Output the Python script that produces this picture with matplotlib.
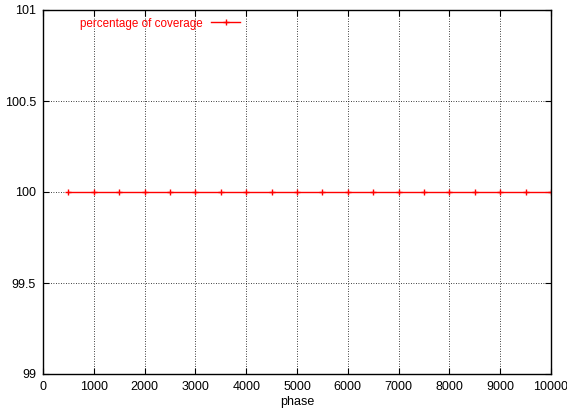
import matplotlib
matplotlib.use('Agg')
import matplotlib.pyplot as plt

# coverage per phase
phases = [500, 1000, 1500, 2000, 2500, 3000, 3500, 4000, 4500, 5000,
          5500, 6000, 6500, 7000, 7500, 8000, 8500, 9000, 9500, 10000]
coverage = [100, 100, 100, 100, 100, 100, 100, 100, 100, 100,
            100, 100, 100, 100, 100, 100, 100, 100, 100, 100]
xticks = [0, 1000, 2000, 3000, 4000, 5000, 6000, 7000, 8000, 9000, 10000]
yticks = [99, 99.5, 100, 100.5, 101]
ytick_labels = ['99', '99.5', '100', '100.5', '101']

plt.rcParams['font.family'] = ['Liberation Sans', 'DejaVu Sans']

fig = plt.figure(figsize=(5.67, 4.09), dpi=100)
ax = fig.add_axes([43 / 567, 1 - 374 / 409, (551 - 43) / 567, (374 - 10) / 409])

ax.plot(phases, coverage, color='red', linewidth=1, marker='+',
        markersize=4.5, markeredgewidth=1, label='percentage of coverage')

ax.set_xlim(0, 10000)
ax.set_ylim(99, 101)
ax.set_xticks(xticks)
ax.set_yticks(yticks)
ax.set_yticklabels(ytick_labels)
ax.tick_params(direction='in', labelsize=9, length=4, width=0.8,
               top=True, right=True, pad=5)
ax.grid(True, color='black', linestyle=(0, (1, 2)), linewidth=0.6)
for s in ax.spines.values():
    s.set_linewidth(1)

ax.set_xlabel('phase', fontsize=9, labelpad=2)

leg = ax.legend(loc='upper left', bbox_to_anchor=(0.058, 1.0), frameon=False,
                markerfirst=False, fontsize=8.4, handlelength=2.5,
                handletextpad=0.7, borderaxespad=0.25)
for t in leg.get_texts():
    t.set_color('red')

plt.savefig('out.png', dpi=100)
plt.close()
